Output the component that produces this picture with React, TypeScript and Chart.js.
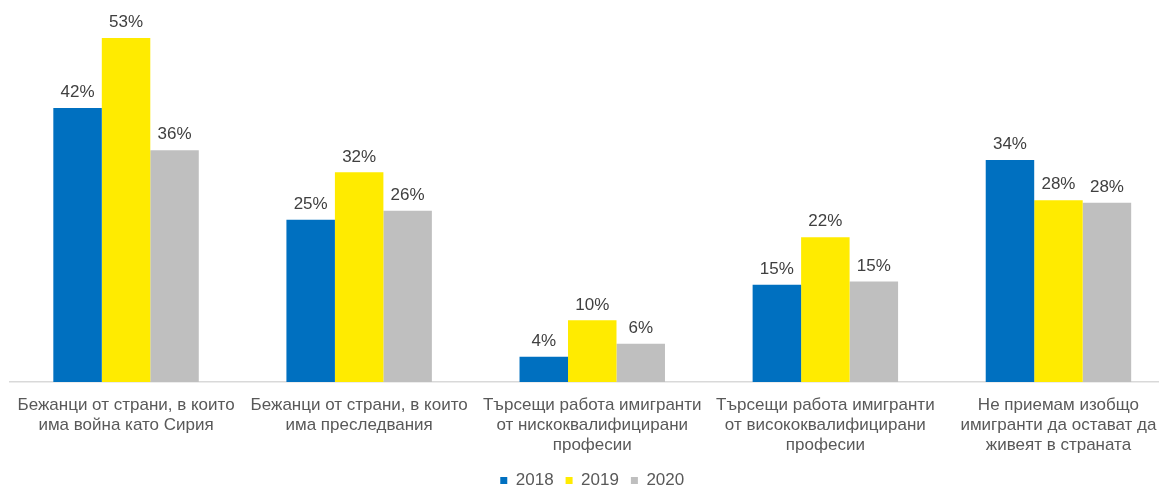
import React, { useEffect, useRef } from "react";
import { Chart, registerables } from "chart.js";

Chart.register(...registerables);

const categories: string[][] = [
  ["Бежанци от страни, в които", "има война като Сирия"],
  ["Бежанци от страни, в които", "има преследвания"],
  ["Търсещи работа имигранти", "от нискоквалифицирани", "професии"],
  ["Търсещи работа имигранти", "от висококвалифицирани", "професии"],
  ["Не приемам изобщо", "имигранти да остават да", "живеят в страната"],
];

const seriesNames = ["2018", "2019", "2020"];
const values2018 = [42.2, 25.0, 3.9, 15.0, 34.2];
const values2019 = [53.0, 32.3, 9.5, 22.3, 28.0];
const values2020 = [35.7, 26.4, 5.9, 15.5, 27.6];
const labels2018 = ["42%", "25%", "4%", "15%", "34%"];
const labels2019 = ["53%", "32%", "10%", "22%", "28%"];
const labels2020 = ["36%", "26%", "6%", "15%", "28%"];
const colors = ["#0070C0", "#FFEB00", "#BFBFBF"];

const FONT = "Arial, 'Liberation Sans', sans-serif";

const valueLabelPlugin = {
  id: "valueLabels",
  afterDatasetsDraw(chart: any) {
    const ctx = chart.ctx;
    const allLabels = [labels2018, labels2019, labels2020];
    ctx.save();
    ctx.font = `17px ${FONT}`;
    ctx.fillStyle = "#404040";
    ctx.textAlign = "center";
    ctx.textBaseline = "bottom";
    chart.data.datasets.forEach((_ds: any, i: number) => {
      const meta = chart.getDatasetMeta(i);
      meta.data.forEach((bar: any, j: number) => {
        ctx.fillText(allLabels[i][j], bar.x, bar.y - 7);
      });
    });
    ctx.restore();
  },
};

export default function App() {
  const canvasRef = useRef<HTMLCanvasElement | null>(null);

  useEffect(() => {
    if (!canvasRef.current) return;
    const chart = new Chart(canvasRef.current, {
      type: "bar",
      data: {
        labels: categories as any,
        datasets: [values2018, values2019, values2020].map((vals, i) => ({
          label: seriesNames[i],
          data: vals,
          backgroundColor: colors[i],
          borderWidth: 0,
          categoryPercentage: 0.624,
          barPercentage: 1,
        })),
      },
      options: {
        animation: false,
        responsive: false,
        maintainAspectRatio: false,
        layout: { padding: { left: 1.5, right: 0, top: 17, bottom: 0 } },
        plugins: {
          tooltip: { enabled: false },
          legend: {
            position: "bottom",
            maxHeight: 26,
            labels: {
              boxWidth: 7,
              boxHeight: 7,
              padding: 12,
              color: "#595959",
              font: { family: FONT, size: 17 },
            },
          },
        },
        scales: {
          x: {
            grid: { display: false },
            border: { display: true, color: "#D9D9D9", width: 1.5 },
            ticks: {
              color: "#595959",
              font: { family: FONT, size: 17, lineHeight: 20 / 17 },
              maxRotation: 0,
              autoSkip: false,
              padding: 5,
            },
            afterFit(scale: any) {
              scale.height = 78;
            },
          },
          y: {
            display: false,
            min: 0,
            max: 55,
          },
        },
      },
      plugins: [valueLabelPlugin],
    });
    return () => chart.destroy();
  }, []);

  return (
    <div style={{ width: 1159, height: 478, overflow: "hidden" }}>
      <canvas ref={canvasRef} width={1167} height={478} style={{ display: "block" }} />
    </div>
  );
}
